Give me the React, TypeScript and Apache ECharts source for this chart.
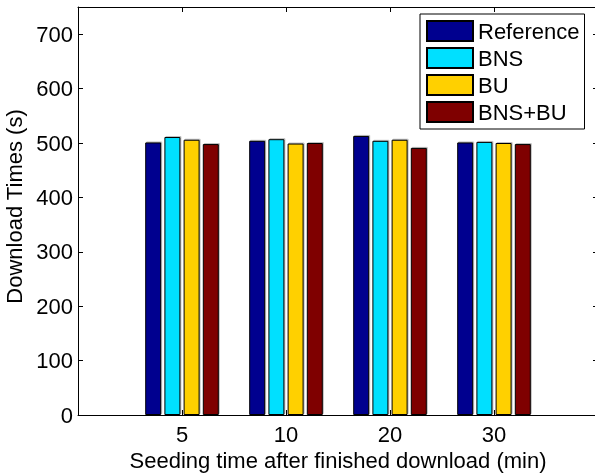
import React, { useEffect, useRef } from "react";
import * as echarts from "echarts";

const categories = ["5", "10", "20", "30"];
const seriesNames = ["Reference", "BNS", "BU", "BNS+BU"];
const referenceValues = [501, 504, 513, 501];
const bnsValues = [511, 507, 504, 502];
const buValues = [506, 499, 506, 500];
const bnsBuValues = [498, 500, 491, 498];
const yTicks = [0, 100, 200, 300, 400, 500, 600, 700];
const colors = ["#00008F", "#00E0FF", "#FFD000", "#7F0000"];

const FONT = "'Liberation Sans', Helvetica, Arial, sans-serif";
const FS = 22;

export default function App() {
  const ref = useRef<HTMLDivElement>(null);
  useEffect(() => {
    if (!ref.current) return;
    const chart = echarts.init(ref.current, null, { renderer: "svg" });
    const allValues = [referenceValues, bnsValues, buValues, bnsBuValues];
    const axisLine = { show: true, onZero: false, lineStyle: { color: "#000", width: 1 } };
    const axisTick = { show: true, inside: true, length: 5, lineStyle: { color: "#000" } };
    const option: any = {
      animation: false,
      textStyle: { fontFamily: FONT },
      grid: {
        left: 78,
        top: 7,
        width: 520,
        height: 408,
        containLabel: false,
        outerBoundsMode: "none",
      },
      legend: {
        orient: "vertical",
        left: 420,
        top: 14,
        padding: [6, 5, 6, 6],
        itemWidth: 46,
        itemHeight: 20,
        itemGap: 5,
        backgroundColor: "#fff",
        borderColor: "#000",
        borderWidth: 1,
        borderRadius: 0,
        icon: "rect",
        textStyle: { fontSize: FS, color: "#000", fontFamily: FONT, padding: [0, 0, 0, 0] },
        data: seriesNames,
      },
      xAxis: [
        {
          type: "value",
          min: 0,
          max: 5,
          interval: 1,
          position: "bottom",
          name: "Seeding time after finished download (min)",
          nameLocation: "middle",
          nameGap: 31,
          nameTextStyle: { fontSize: FS, color: "#000", fontFamily: FONT },
          axisLine,
          axisTick,
          axisLabel: {
            fontSize: FS,
            color: "#000",
            margin: 8,
            fontFamily: FONT,
            formatter: (v: number) => categories[v - 1] ?? "",
          },
          splitLine: { show: false },
        },
        {
          type: "value",
          min: 0,
          max: 5,
          interval: 1,
          position: "top",
          axisLine,
          axisTick,
          axisLabel: { show: false },
          splitLine: { show: false },
        },
      ],
      yAxis: [
        {
          type: "value",
          min: 0,
          max: 750,
          interval: 100,
          position: "left",
          name: "Download Times (s)",
          nameLocation: "middle",
          nameGap: 51,
          nameTextStyle: { fontSize: FS, color: "#000", fontFamily: FONT, padding: [0, 0, 0, 9] },
          axisLine,
          axisTick,
          axisLabel: {
            fontSize: FS,
            color: "#000",
            margin: 5,
            fontFamily: FONT,
            formatter: (v: number) => (yTicks.includes(v) ? String(v) : ""),
          },
          splitLine: { show: false },
        },
        {
          type: "value",
          min: 0,
          max: 750,
          interval: 100,
          position: "right",
          axisLine,
          axisTick,
          axisLabel: { show: false },
          splitLine: { show: false },
        },
      ],
      series: seriesNames.map((name, i) => ({
        name,
        type: "bar",
        xAxisIndex: 0,
        yAxisIndex: 0,
        barWidth: 16,
        barGap: "20%",
        data: allValues[i].map((v, j) => [j + 1, v]),
        itemStyle: {
          color: colors[i],
          borderColor: "#000",
          borderWidth: 1,
          shadowColor: "rgba(0,0,0,0.25)",
          shadowOffsetX: 1,
          shadowOffsetY: -1,
          shadowBlur: 0,
        },
      })),
    };
    chart.setOption(option);
    return () => chart.dispose();
  }, []);
  return (
    <div
      ref={ref}
      style={{ position: "fixed", left: 0, top: 0, width: 595, height: 473, overflow: "hidden" }}
    />
  );
}
